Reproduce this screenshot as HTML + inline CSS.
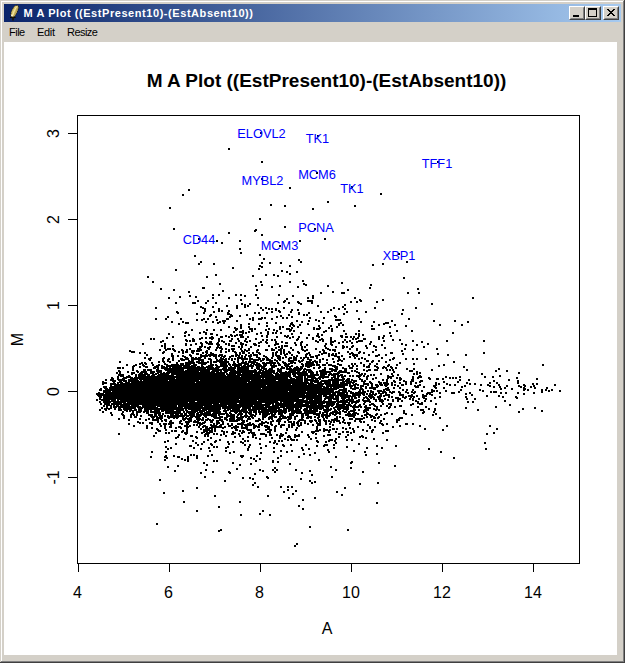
<!DOCTYPE html>
<html>
<head>
<meta charset="utf-8">
<title>M A Plot ((EstPresent10)-(EstAbsent10))</title>
<style>
html,body{margin:0;padding:0;background:#d4d0c8;}
body{width:625px;height:663px;overflow:hidden;position:relative;font-family:"Liberation Sans",sans-serif;}
#win{position:absolute;left:0;top:0;width:625px;height:663px;background:#d4d0c8;overflow:hidden;}
.b{position:absolute;}
#titlebar{position:absolute;left:4px;top:4px;width:617px;height:18px;background:linear-gradient(to right,#0a246a 0%,#a6caf0 100%);}
#ttext{position:absolute;left:23.5px;top:6px;height:14px;line-height:14px;font-size:11px;font-weight:bold;color:#fff;white-space:nowrap;transform-origin:0 0;letter-spacing:0.56px;}
.cbtn{position:absolute;top:6px;width:16px;height:14px;background:#d4d0c8;box-sizing:border-box;border:1px solid;border-color:#fff #404040 #404040 #fff;}
.cbtn:after{content:"";position:absolute;left:0;top:0;right:0;bottom:0;border:1px solid;border-color:#d4d0c8 #808080 #808080 #d4d0c8;}
#menubar{position:absolute;left:4px;top:22px;width:617px;height:19px;}
.mi{position:absolute;top:26px;height:13px;line-height:13px;font-size:11px;color:#000;white-space:nowrap;transform-origin:0 0;}
#canvas{position:absolute;left:4px;top:42px;width:613px;height:613px;background:#fff;}
svg text{font-family:"Liberation Sans",sans-serif;}
</style>
</head>
<body>
<div id="win">
  <!-- window 3D border -->
  <div class="b" style="left:0;top:0;width:625px;height:663px;background:#404040"></div>
  <div class="b" style="left:0;top:0;width:624px;height:662px;background:#d4d0c8"></div>
  <div class="b" style="left:1px;top:1px;width:623px;height:661px;background:#808080"></div>
  <div class="b" style="left:1px;top:1px;width:622px;height:660px;background:#fff"></div>
  <div class="b" style="left:2px;top:2px;width:621px;height:659px;background:#d4d0c8"></div>

  <div id="titlebar"></div>
  <!-- feather icon -->
  <svg class="b" style="left:8px;top:4px" width="14" height="18" viewBox="0 0 14 18">
    <path d="M9.3 1.2 L7.2 1.6 C5.6 3.2 4.0 5.6 3.3 7.6 C2.8 9.4 2.7 11.2 3.1 12.8 L6.2 13.0 C7.0 12.0 7.8 10.8 8.6 9.2 C9.6 7.2 10.4 5.0 10.6 3.0 C10.5 2.2 10.0 1.5 9.3 1.2 Z" fill="#d8c46c" stroke="#14100a" stroke-width="0.9" stroke-dasharray="1.1 0.7"/>
    <path d="M8.9 2.4 C7.4 4.2 5.6 7.4 4.6 11.8" fill="none" stroke="#f4ecb4" stroke-width="0.9"/>
    <path d="M9.6 3.6 C8.8 6.0 7.4 9.0 5.8 12.2" fill="none" stroke="#a89448" stroke-width="0.8"/>
    <rect x="3.2" y="10.8" width="1.4" height="1.4" fill="#fffce8"/>
    <path d="M2.0 13.5 H7.6" fill="none" stroke="#0c0a06" stroke-width="1.1"/>
    <path d="M5.0 13 V16.6" fill="none" stroke="#1c1608" stroke-width="1.7"/>
  </svg>
  <div id="ttext">M A Plot ((EstPresent10)-(EstAbsent10))</div>

  <div class="cbtn" style="left:569px"><div class="b" style="left:3px;top:8px;width:6px;height:2px;background:#000"></div></div>
  <div class="cbtn" style="left:585px"><div class="b" style="left:2px;top:1px;width:9px;height:9px;box-sizing:border-box;border:1px solid #000;border-top-width:2px"></div></div>
  <div class="cbtn" style="left:603px">
    <svg class="b" style="left:3px;top:2px" width="8" height="7" viewBox="0 0 8 7" shape-rendering="crispEdges">
      <path d="M0 0h2v1h1v1h2v-1h1v-1h2v1h-1v1h-1v1h-1v1h1v1h1v1h1v1h-2v-1h-1v-1h-2v1h-1v1h-2v-1h1v-1h1v-1h1v-1h-1v-1h-1v-1h-1z" fill="#000"/>
    </svg>
  </div>

  <div id="menubar"></div>
  <div class="mi" id="m1" style="left:9px;letter-spacing:-0.5px">File</div>
  <div class="mi" id="m2" style="left:37px;letter-spacing:-0.3px">Edit</div>
  <div class="mi" id="m3" style="left:67px;letter-spacing:-0.55px">Resize</div>

  <div id="canvas">
    <svg id="plot" width="613" height="613" viewBox="4 42 613 613" style="position:absolute;left:0;top:0">
      <!-- title -->
      <text id="main" x="326.5" y="87" text-anchor="middle" font-size="19" font-weight="bold" fill="#000">M A Plot ((EstPresent10)-(EstAbsent10))</text>
      <!-- plot box and axes -->
      <g shape-rendering="crispEdges" stroke="#000" stroke-width="1" fill="none">
        <rect x="77.5" y="115.5" width="502" height="448"/>
        <path d="M78.5 563.5V572 M169.5 563.5V572 M260.5 563.5V572 M351.5 563.5V572 M442.5 563.5V572 M533.5 563.5V572"/>
        <path d="M77.5 133.5H68 M77.5 219.5H68 M77.5 305.5H68 M77.5 391.5H68 M77.5 477.5H68"/>
      </g>
      <g font-size="16" fill="#000" text-anchor="middle">
        <text x="77.5" y="598">4</text>
        <text x="168.5" y="598">6</text>
        <text x="259.5" y="598">8</text>
        <text x="351" y="598">10</text>
        <text x="442" y="598">12</text>
        <text x="533" y="598">14</text>
        <text x="327" y="634">A</text>
        <text transform="translate(59,133.5) rotate(-90)">3</text>
        <text transform="translate(59,219.5) rotate(-90)">2</text>
        <text transform="translate(59,305.5) rotate(-90)">1</text>
        <text transform="translate(59,391.5) rotate(-90)">0</text>
        <text transform="translate(59,477.5) rotate(-90)">-1</text>
        <text transform="translate(22.5,339.5) rotate(-90)">M</text>
      </g>
      <!-- points -->
      <path id="pts" shape-rendering="crispEdges" fill="none" stroke="#000" stroke-width="1" d="M260 132.5h2M260 133.5h2M317 135.5h2M317 136.5h2M228 148.5h2M228 149.5h2M261 161.5h2M437 161.5h2M261 162.5h2M437 162.5h2M316 172.5h2M316 173.5h2M261 178.5h2M261 179.5h2M351 186.5h2M289 187.5h2M351 187.5h2M289 188.5h2M188 189.5h2M188 190.5h2M380 193.5h2M182 194.5h2M380 194.5h2M182 195.5h2M327 201.5h2M327 202.5h2M270 204.5h2M270 205.5h2M284 205.5h2M354 205.5h2M284 206.5h2M354 206.5h2M169 207.5h2M169 208.5h2M312 208.5h2M312 209.5h2M259 218.5h2M259 219.5h2M284 226.5h2M284 227.5h2M173 228.5h2M314 228.5h2M173 229.5h2M255 229.5h2M314 229.5h2M254 230.5h3M254 231.5h2M228 232.5h2M228 233.5h2M261 234.5h2M261 235.5h2M198 238.5h2M324 238.5h2M198 239.5h2M324 239.5h2M216 240.5h2M239 240.5h2M299 240.5h2M216 241.5h2M239 241.5h2M299 241.5h2M221 242.5h2M221 243.5h2M279 245.5h2M279 246.5h2M239 248.5h2M239 249.5h2M240 252.5h2M240 253.5h2M398 253.5h2M259 254.5h2M398 254.5h2M194 255.5h2M259 255.5h2M194 256.5h2M263 258.5h2M263 259.5h2M298 259.5h2M298 260.5h2M200 261.5h2M300 261.5h2M406 261.5h2M200 262.5h2M261 262.5h2M269 262.5h2M280 262.5h2M300 262.5h2M406 262.5h2M198 263.5h2M213 263.5h2M261 263.5h2M269 263.5h2M280 263.5h2M382 263.5h2M198 264.5h2M213 264.5h2M372 264.5h2M382 264.5h2M259 265.5h2M289 265.5h2M372 265.5h2M259 266.5h4M289 266.5h2M232 267.5h2M261 267.5h2M232 268.5h2M258 268.5h2M175 269.5h2M258 269.5h2M175 270.5h2M281 270.5h2M281 271.5h2M286 271.5h2M296 271.5h2M286 272.5h2M296 272.5h2M289 273.5h2M215 274.5h2M265 274.5h2M273 274.5h2M289 274.5h2M215 275.5h2M252 275.5h2M265 275.5h2M273 275.5h2M277 275.5h2M147 276.5h2M206 276.5h2M252 276.5h2M277 276.5h2M147 277.5h2M206 277.5h2M403 277.5h2M403 278.5h2M302 280.5h2M152 281.5h2M260 281.5h2M289 281.5h2M302 281.5h2M152 282.5h2M260 282.5h2M289 282.5h2M341 282.5h2M219 283.5h2M303 283.5h2M341 283.5h2M219 284.5h2M261 284.5h2M303 284.5h4M370 284.5h2M255 285.5h2M261 285.5h2M279 285.5h2M305 285.5h2M327 285.5h2M370 285.5h2M255 286.5h2M271 286.5h2M279 286.5h2M297 286.5h2M327 286.5h2M202 287.5h3M271 287.5h2M297 287.5h2M369 287.5h2M160 288.5h2M202 288.5h3M369 288.5h2M417 288.5h2M160 289.5h2M173 289.5h2M256 289.5h2M347 289.5h2M417 289.5h2M173 290.5h2M222 290.5h2M256 290.5h2M347 290.5h2M188 291.5h2M222 291.5h2M332 291.5h2M188 292.5h2M320 292.5h2M332 292.5h2M341 292.5h4M407 292.5h2M418 292.5h2M320 293.5h2M341 293.5h4M407 293.5h2M418 293.5h2M212 294.5h2M218 294.5h2M235 294.5h2M240 294.5h2M255 294.5h2M278 294.5h2M189 295.5h2M212 295.5h2M218 295.5h2M235 295.5h2M240 295.5h2M244 295.5h2M255 295.5h2M278 295.5h2M292 295.5h2M312 295.5h2M179 296.5h2M189 296.5h2M195 296.5h2M244 296.5h2M292 296.5h2M312 296.5h2M168 297.5h2M179 297.5h2M195 297.5h2M212 297.5h2M228 297.5h2M257 297.5h2M307 297.5h2M312 297.5h2M354 297.5h2M472 297.5h2M168 298.5h2M212 298.5h2M228 298.5h2M257 298.5h2M286 298.5h2M307 298.5h2M312 298.5h2M354 298.5h2M472 298.5h2M240 299.5h2M286 299.5h2M359 299.5h2M382 299.5h2M197 300.5h2M207 300.5h2M240 300.5h2M284 300.5h2M307 300.5h6M359 300.5h3M382 300.5h2M197 301.5h2M207 301.5h2M283 301.5h3M297 301.5h2M307 301.5h6M350 301.5h2M356 301.5h2M360 301.5h2M376 301.5h2M175 302.5h2M192 302.5h4M205 302.5h2M215 302.5h2M277 302.5h2M283 302.5h2M288 302.5h2M297 302.5h3M311 302.5h2M350 302.5h2M356 302.5h2M376 302.5h2M175 303.5h2M192 303.5h4M205 303.5h2M215 303.5h2M241 303.5h2M249 303.5h2M277 303.5h2M288 303.5h2M298 303.5h4M311 303.5h2M431 303.5h2M241 304.5h2M244 304.5h2M249 304.5h2M257 304.5h2M300 304.5h2M344 304.5h2M431 304.5h2M226 305.5h2M236 305.5h2M244 305.5h2M247 305.5h2M257 305.5h2M317 305.5h2M344 305.5h2M200 306.5h2M212 306.5h2M226 306.5h2M236 306.5h2M244 306.5h2M247 306.5h2M317 306.5h2M342 306.5h2M155 307.5h2M200 307.5h4M212 307.5h2M236 307.5h2M244 307.5h2M260 307.5h2M265 307.5h2M283 307.5h2M333 307.5h2M342 307.5h2M374 307.5h2M415 307.5h2M155 308.5h2M202 308.5h4M218 308.5h2M236 308.5h2M260 308.5h2M265 308.5h2M268 308.5h2M271 308.5h2M275 308.5h2M283 308.5h2M333 308.5h2M338 308.5h2M344 308.5h2M374 308.5h2M415 308.5h2M204 309.5h2M218 309.5h2M262 309.5h2M268 309.5h2M271 309.5h2M275 309.5h2M291 309.5h2M297 309.5h2M330 309.5h2M338 309.5h2M344 309.5h2M402 309.5h2M204 310.5h2M218 310.5h2M221 310.5h2M228 310.5h2M262 310.5h2M275 310.5h2M278 310.5h2M291 310.5h2M297 310.5h2M330 310.5h2M356 310.5h2M402 310.5h2M176 311.5h2M204 311.5h2M213 311.5h2M218 311.5h2M221 311.5h2M228 311.5h2M271 311.5h2M278 311.5h3M290 311.5h2M320 311.5h2M327 311.5h2M346 311.5h2M356 311.5h2M365 311.5h2M176 312.5h3M203 312.5h2M213 312.5h2M227 312.5h2M254 312.5h2M258 312.5h2M266 312.5h2M271 312.5h2M279 312.5h2M290 312.5h2M298 312.5h2M308 312.5h2M320 312.5h2M327 312.5h2M346 312.5h2M365 312.5h2M177 313.5h2M196 313.5h2M203 313.5h2M227 313.5h3M254 313.5h2M258 313.5h2M266 313.5h2M298 313.5h2M308 313.5h2M343 313.5h2M401 313.5h2M196 314.5h2M210 314.5h2M227 314.5h5M246 314.5h2M288 314.5h2M298 314.5h2M303 314.5h2M306 314.5h2M343 314.5h2M401 314.5h2M209 315.5h3M230 315.5h3M239 315.5h2M246 315.5h2M280 315.5h2M288 315.5h2M303 315.5h2M306 315.5h2M334 315.5h2M167 316.5h2M209 316.5h2M215 316.5h2M229 316.5h4M239 316.5h2M276 316.5h2M280 316.5h2M291 316.5h2M334 316.5h3M167 317.5h2M215 317.5h2M229 317.5h2M252 317.5h2M261 317.5h2M264 317.5h2M276 317.5h2M282 317.5h2M286 317.5h2M291 317.5h2M309 317.5h2M323 317.5h2M335 317.5h2M155 318.5h2M165 318.5h2M180 318.5h2M203 318.5h2M207 318.5h2M226 318.5h3M249 318.5h2M252 318.5h2M258 318.5h5M264 318.5h2M271 318.5h2M282 318.5h2M286 318.5h2M309 318.5h2M323 318.5h2M358 318.5h2M408 318.5h2M155 319.5h2M165 319.5h2M180 319.5h2M196 319.5h2M201 319.5h4M207 319.5h2M216 319.5h2M226 319.5h3M249 319.5h2M252 319.5h2M258 319.5h4M271 319.5h2M315 319.5h2M335 319.5h6M358 319.5h2M408 319.5h2M196 320.5h2M201 320.5h2M216 320.5h2M222 320.5h4M236 320.5h2M252 320.5h2M296 320.5h2M308 320.5h2M315 320.5h2M318 320.5h2M335 320.5h6M391 320.5h2M433 320.5h2M454 320.5h2M171 321.5h2M182 321.5h2M205 321.5h2M212 321.5h2M219 321.5h2M222 321.5h4M236 321.5h2M296 321.5h2M301 321.5h2M308 321.5h2M318 321.5h2M360 321.5h2M373 321.5h2M391 321.5h2M433 321.5h2M454 321.5h2M467 321.5h2M171 322.5h2M182 322.5h2M185 322.5h4M205 322.5h2M212 322.5h2M217 322.5h4M223 322.5h2M266 322.5h2M275 322.5h2M291 322.5h2M301 322.5h2M322 322.5h2M340 322.5h2M360 322.5h2M373 322.5h2M385 322.5h4M467 322.5h2M178 323.5h2M185 323.5h4M217 323.5h2M223 323.5h2M248 323.5h2M258 323.5h2M266 323.5h2M275 323.5h2M290 323.5h3M307 323.5h2M322 323.5h2M338 323.5h4M383 323.5h6M178 324.5h2M240 324.5h2M248 324.5h2M258 324.5h2M290 324.5h4M299 324.5h2M307 324.5h2M338 324.5h2M342 324.5h2M378 324.5h2M383 324.5h2M394 324.5h2M439 324.5h2M461 324.5h2M240 325.5h2M266 325.5h2M289 325.5h2M292 325.5h3M299 325.5h2M318 325.5h2M330 325.5h2M338 325.5h2M342 325.5h2M371 325.5h2M378 325.5h2M394 325.5h2M405 325.5h2M439 325.5h2M461 325.5h2M228 326.5h2M240 326.5h2M248 326.5h2M266 326.5h2M279 326.5h2M282 326.5h2M289 326.5h2M293 326.5h2M297 326.5h2M318 326.5h2M330 326.5h2M336 326.5h2M371 326.5h2M389 326.5h2M405 326.5h2M228 327.5h2M234 327.5h2M240 327.5h2M248 327.5h2M279 327.5h2M282 327.5h2M291 327.5h2M297 327.5h2M313 327.5h2M319 327.5h2M328 327.5h2M336 327.5h2M389 327.5h2M234 328.5h4M240 328.5h2M249 328.5h4M254 328.5h2M268 328.5h2M279 328.5h2M286 328.5h4M291 328.5h2M313 328.5h2M316 328.5h5M328 328.5h2M331 328.5h2M371 328.5h4M191 329.5h2M206 329.5h2M213 329.5h2M220 329.5h2M235 329.5h3M249 329.5h4M254 329.5h2M265 329.5h2M268 329.5h2M273 329.5h2M279 329.5h2M286 329.5h6M313 329.5h2M316 329.5h4M331 329.5h2M371 329.5h4M191 330.5h2M206 330.5h2M213 330.5h2M220 330.5h2M235 330.5h2M242 330.5h2M251 330.5h2M265 330.5h2M273 330.5h2M276 330.5h2M289 330.5h3M293 330.5h2M325 330.5h2M331 330.5h2M343 330.5h2M358 330.5h2M396 330.5h2M411 330.5h2M185 331.5h2M203 331.5h2M233 331.5h2M239 331.5h5M248 331.5h2M251 331.5h2M267 331.5h2M276 331.5h2M289 331.5h2M293 331.5h2M323 331.5h4M331 331.5h2M343 331.5h2M358 331.5h2M396 331.5h2M411 331.5h2M184 332.5h3M199 332.5h2M203 332.5h4M233 332.5h2M239 332.5h5M245 332.5h2M248 332.5h2M260 332.5h2M267 332.5h2M272 332.5h2M275 332.5h2M280 332.5h2M300 332.5h2M323 332.5h2M389 332.5h2M452 332.5h2M168 333.5h2M184 333.5h2M199 333.5h2M205 333.5h2M210 333.5h3M242 333.5h2M245 333.5h2M256 333.5h2M260 333.5h2M267 333.5h2M272 333.5h2M275 333.5h2M280 333.5h2M291 333.5h2M300 333.5h2M317 333.5h2M345 333.5h2M355 333.5h2M358 333.5h2M389 333.5h2M452 333.5h2M168 334.5h2M188 334.5h2M205 334.5h2M210 334.5h3M216 334.5h2M230 334.5h2M236 334.5h2M239 334.5h4M256 334.5h2M267 334.5h2M291 334.5h2M308 334.5h2M317 334.5h2M321 334.5h2M345 334.5h2M355 334.5h2M358 334.5h2M362 334.5h2M184 335.5h2M188 335.5h2M216 335.5h2M225 335.5h2M230 335.5h3M234 335.5h4M239 335.5h4M261 335.5h2M266 335.5h2M284 335.5h2M287 335.5h2M308 335.5h2M316 335.5h3M321 335.5h2M340 335.5h3M358 335.5h2M362 335.5h2M383 335.5h2M390 335.5h2M172 336.5h2M184 336.5h2M211 336.5h2M220 336.5h3M225 336.5h2M228 336.5h2M231 336.5h2M234 336.5h2M240 336.5h4M247 336.5h2M261 336.5h2M266 336.5h2M276 336.5h2M284 336.5h5M292 336.5h2M298 336.5h2M316 336.5h4M340 336.5h3M345 336.5h3M350 336.5h2M353 336.5h2M358 336.5h2M378 336.5h2M383 336.5h2M390 336.5h2M166 337.5h2M172 337.5h2M201 337.5h2M205 337.5h2M209 337.5h5M220 337.5h3M228 337.5h2M240 337.5h4M247 337.5h2M266 337.5h2M276 337.5h2M286 337.5h2M289 337.5h2M292 337.5h2M298 337.5h2M306 337.5h2M312 337.5h2M318 337.5h2M330 337.5h2M341 337.5h2M345 337.5h3M350 337.5h2M353 337.5h2M357 337.5h2M378 337.5h2M382 337.5h2M150 338.5h2M153 338.5h2M166 338.5h2M192 338.5h2M199 338.5h4M205 338.5h2M209 338.5h5M218 338.5h2M231 338.5h2M237 338.5h2M245 338.5h2M255 338.5h2M289 338.5h2M297 338.5h2M306 338.5h2M312 338.5h2M321 338.5h2M330 338.5h2M352 338.5h2M355 338.5h4M363 338.5h3M378 338.5h2M382 338.5h2M150 339.5h2M153 339.5h2M185 339.5h2M192 339.5h3M199 339.5h2M211 339.5h2M218 339.5h2M231 339.5h2M237 339.5h2M245 339.5h2M255 339.5h2M262 339.5h2M266 339.5h2M271 339.5h2M274 339.5h2M296 339.5h3M312 339.5h2M319 339.5h5M330 339.5h2M344 339.5h2M352 339.5h2M355 339.5h2M363 339.5h3M378 339.5h2M392 339.5h2M399 339.5h2M162 340.5h2M185 340.5h3M189 340.5h2M192 340.5h3M218 340.5h2M221 340.5h2M229 340.5h3M238 340.5h2M244 340.5h2M249 340.5h2M262 340.5h2M266 340.5h2M271 340.5h2M274 340.5h2M296 340.5h2M315 340.5h2M319 340.5h2M322 340.5h2M330 340.5h2M334 340.5h2M344 340.5h2M349 340.5h2M358 340.5h5M383 340.5h2M392 340.5h2M399 340.5h2M412 340.5h2M446 340.5h2M483 340.5h2M160 341.5h4M186 341.5h2M189 341.5h2M192 341.5h3M205 341.5h2M209 341.5h3M218 341.5h2M221 341.5h4M229 341.5h3M238 341.5h2M244 341.5h4M249 341.5h2M260 341.5h2M265 341.5h2M275 341.5h2M281 341.5h2M301 341.5h2M315 341.5h4M322 341.5h2M330 341.5h6M342 341.5h2M346 341.5h2M349 341.5h2M356 341.5h7M370 341.5h2M383 341.5h2M412 341.5h2M421 341.5h2M446 341.5h2M483 341.5h2M160 342.5h2M200 342.5h2M205 342.5h3M209 342.5h3M217 342.5h2M223 342.5h2M235 342.5h2M240 342.5h2M246 342.5h2M258 342.5h4M265 342.5h3M275 342.5h2M281 342.5h2M285 342.5h3M294 342.5h2M300 342.5h3M317 342.5h2M330 342.5h4M338 342.5h2M342 342.5h2M346 342.5h2M351 342.5h2M356 342.5h2M370 342.5h2M421 342.5h2M142 343.5h2M164 343.5h2M185 343.5h2M195 343.5h2M200 343.5h3M206 343.5h7M216 343.5h3M225 343.5h2M228 343.5h2M235 343.5h2M240 343.5h4M253 343.5h3M258 343.5h2M266 343.5h2M275 343.5h4M285 343.5h3M294 343.5h2M300 343.5h2M325 343.5h2M330 343.5h2M338 343.5h2M351 343.5h2M369 343.5h2M401 343.5h2M427 343.5h2M142 344.5h2M164 344.5h2M185 344.5h2M190 344.5h2M195 344.5h2M201 344.5h2M208 344.5h5M216 344.5h4M225 344.5h2M228 344.5h2M240 344.5h4M245 344.5h2M253 344.5h4M274 344.5h5M295 344.5h2M300 344.5h2M306 344.5h2M325 344.5h2M330 344.5h3M369 344.5h2M381 344.5h2M401 344.5h2M405 344.5h2M416 344.5h2M427 344.5h2M161 345.5h2M164 345.5h2M172 345.5h2M185 345.5h2M190 345.5h2M201 345.5h2M217 345.5h3M228 345.5h2M231 345.5h4M241 345.5h2M245 345.5h2M254 345.5h3M258 345.5h2M268 345.5h2M274 345.5h2M281 345.5h2M284 345.5h4M295 345.5h2M300 345.5h2M306 345.5h2M324 345.5h2M331 345.5h2M342 345.5h2M352 345.5h2M365 345.5h2M373 345.5h2M381 345.5h2M405 345.5h2M416 345.5h2M161 346.5h2M164 346.5h2M172 346.5h2M199 346.5h4M204 346.5h2M209 346.5h2M217 346.5h2M220 346.5h2M231 346.5h4M238 346.5h2M241 346.5h2M250 346.5h2M258 346.5h2M268 346.5h2M278 346.5h2M281 346.5h2M284 346.5h4M301 346.5h2M304 346.5h2M324 346.5h2M335 346.5h2M342 346.5h3M346 346.5h2M351 346.5h3M365 346.5h2M373 346.5h4M423 346.5h2M164 347.5h2M199 347.5h3M204 347.5h2M207 347.5h4M216 347.5h6M238 347.5h2M241 347.5h2M250 347.5h2M275 347.5h2M278 347.5h2M281 347.5h2M290 347.5h2M301 347.5h2M304 347.5h2M325 347.5h2M335 347.5h2M342 347.5h3M346 347.5h2M351 347.5h2M366 347.5h2M375 347.5h2M384 347.5h2M423 347.5h2M164 348.5h2M167 348.5h4M172 348.5h2M189 348.5h2M197 348.5h4M207 348.5h3M216 348.5h2M219 348.5h4M225 348.5h2M231 348.5h4M240 348.5h2M248 348.5h2M271 348.5h2M275 348.5h2M280 348.5h3M290 348.5h2M301 348.5h2M315 348.5h2M325 348.5h4M342 348.5h2M349 348.5h2M356 348.5h2M366 348.5h2M384 348.5h2M404 348.5h2M436 348.5h2M159 349.5h2M165 349.5h6M172 349.5h3M181 349.5h2M186 349.5h2M189 349.5h2M197 349.5h5M208 349.5h2M215 349.5h2M221 349.5h2M225 349.5h2M228 349.5h2M231 349.5h4M240 349.5h2M244 349.5h2M248 349.5h2M257 349.5h2M265 349.5h3M271 349.5h4M278 349.5h4M283 349.5h2M292 349.5h2M301 349.5h3M306 349.5h2M315 349.5h2M322 349.5h2M327 349.5h4M332 349.5h4M349 349.5h2M356 349.5h2M375 349.5h2M404 349.5h2M412 349.5h2M436 349.5h2M129 350.5h2M159 350.5h2M165 350.5h2M173 350.5h3M181 350.5h3M186 350.5h2M191 350.5h4M196 350.5h6M206 350.5h2M215 350.5h2M220 350.5h2M228 350.5h2M232 350.5h2M241 350.5h2M244 350.5h6M256 350.5h3M265 350.5h3M271 350.5h4M278 350.5h4M283 350.5h2M292 350.5h2M302 350.5h6M322 350.5h3M329 350.5h2M332 350.5h4M356 350.5h2M375 350.5h2M401 350.5h2M412 350.5h2M129 351.5h6M163 351.5h2M174 351.5h2M178 351.5h2M182 351.5h2M185 351.5h3M191 351.5h4M196 351.5h4M205 351.5h3M220 351.5h2M225 351.5h2M228 351.5h2M232 351.5h4M241 351.5h4M246 351.5h2M256 351.5h2M276 351.5h2M280 351.5h2M283 351.5h2M288 351.5h2M297 351.5h2M304 351.5h2M319 351.5h2M323 351.5h2M334 351.5h2M347 351.5h2M359 351.5h2M372 351.5h2M401 351.5h2M131 352.5h4M139 352.5h2M144 352.5h2M162 352.5h3M178 352.5h2M182 352.5h2M185 352.5h3M191 352.5h3M202 352.5h2M205 352.5h3M210 352.5h2M220 352.5h2M225 352.5h2M234 352.5h3M239 352.5h2M242 352.5h3M248 352.5h2M252 352.5h2M256 352.5h4M272 352.5h2M275 352.5h3M280 352.5h2M283 352.5h2M288 352.5h3M297 352.5h3M308 352.5h2M319 352.5h2M323 352.5h4M338 352.5h2M347 352.5h2M351 352.5h2M358 352.5h3M363 352.5h2M372 352.5h2M390 352.5h3M483 352.5h2M139 353.5h2M144 353.5h2M162 353.5h2M171 353.5h2M182 353.5h2M192 353.5h2M196 353.5h3M202 353.5h2M206 353.5h2M210 353.5h4M235 353.5h2M239 353.5h2M242 353.5h3M248 353.5h2M252 353.5h2M258 353.5h3M272 353.5h2M275 353.5h2M280 353.5h2M283 353.5h2M286 353.5h2M289 353.5h2M298 353.5h2M306 353.5h4M321 353.5h6M328 353.5h2M332 353.5h2M335 353.5h2M338 353.5h2M349 353.5h5M358 353.5h2M363 353.5h2M390 353.5h3M402 353.5h2M437 353.5h2M483 353.5h2M146 354.5h2M171 354.5h2M189 354.5h2M196 354.5h3M200 354.5h2M205 354.5h2M208 354.5h9M219 354.5h4M235 354.5h3M239 354.5h2M245 354.5h2M250 354.5h2M253 354.5h5M259 354.5h2M272 354.5h2M275 354.5h2M280 354.5h2M284 354.5h4M291 354.5h2M305 354.5h3M309 354.5h2M318 354.5h2M321 354.5h2M328 354.5h2M331 354.5h3M335 354.5h2M349 354.5h2M352 354.5h6M368 354.5h2M378 354.5h2M385 354.5h2M402 354.5h2M437 354.5h2M447 354.5h2M465 354.5h2M146 355.5h2M171 355.5h3M177 355.5h2M182 355.5h2M189 355.5h3M200 355.5h17M218 355.5h5M224 355.5h2M231 355.5h3M235 355.5h5M241 355.5h2M245 355.5h2M248 355.5h4M253 355.5h5M263 355.5h2M272 355.5h2M275 355.5h5M284 355.5h2M291 355.5h2M296 355.5h2M305 355.5h2M309 355.5h2M315 355.5h5M328 355.5h2M331 355.5h6M341 355.5h2M352 355.5h6M368 355.5h2M375 355.5h5M385 355.5h2M447 355.5h2M465 355.5h2M171 356.5h3M177 356.5h2M182 356.5h4M190 356.5h2M200 356.5h8M209 356.5h2M213 356.5h4M218 356.5h2M221 356.5h5M229 356.5h5M235 356.5h2M238 356.5h2M241 356.5h2M244 356.5h2M248 356.5h4M256 356.5h2M263 356.5h4M272 356.5h2M276 356.5h5M285 356.5h2M293 356.5h2M296 356.5h2M305 356.5h2M310 356.5h4M315 356.5h3M328 356.5h2M334 356.5h6M341 356.5h2M349 356.5h2M353 356.5h2M356 356.5h2M375 356.5h3M144 357.5h2M150 357.5h2M163 357.5h2M172 357.5h2M184 357.5h4M191 357.5h3M195 357.5h2M198 357.5h4M204 357.5h2M215 357.5h2M220 357.5h2M223 357.5h2M229 357.5h2M237 357.5h6M244 357.5h2M249 357.5h2M256 357.5h4M265 357.5h3M271 357.5h2M277 357.5h4M282 357.5h2M285 357.5h2M289 357.5h3M293 357.5h4M300 357.5h2M303 357.5h6M310 357.5h4M316 357.5h2M337 357.5h3M349 357.5h2M354 357.5h2M361 357.5h2M381 357.5h2M393 357.5h2M144 358.5h2M148 358.5h4M162 358.5h3M168 358.5h2M172 358.5h2M180 358.5h3M185 358.5h4M191 358.5h10M204 358.5h2M208 358.5h3M215 358.5h2M220 358.5h4M225 358.5h2M228 358.5h2M231 358.5h2M234 358.5h2M237 358.5h11M249 358.5h4M258 358.5h3M262 358.5h3M266 358.5h3M271 358.5h2M277 358.5h4M282 358.5h2M288 358.5h4M293 358.5h4M300 358.5h2M303 358.5h2M307 358.5h2M316 358.5h2M322 358.5h2M332 358.5h2M338 358.5h2M343 358.5h2M354 358.5h2M358 358.5h2M361 358.5h2M364 358.5h2M381 358.5h2M392 358.5h3M405 358.5h2M412 358.5h2M416 358.5h2M425 358.5h2M148 359.5h3M162 359.5h2M167 359.5h3M172 359.5h2M180 359.5h9M191 359.5h13M208 359.5h4M216 359.5h2M219 359.5h8M228 359.5h2M231 359.5h2M234 359.5h2M237 359.5h2M241 359.5h7M249 359.5h12M262 359.5h3M266 359.5h5M274 359.5h2M278 359.5h3M288 359.5h2M293 359.5h4M302 359.5h2M307 359.5h5M319 359.5h2M322 359.5h2M326 359.5h2M332 359.5h2M338 359.5h3M343 359.5h2M358 359.5h2M364 359.5h2M389 359.5h2M392 359.5h2M405 359.5h2M412 359.5h2M416 359.5h2M425 359.5h2M149 360.5h2M162 360.5h2M167 360.5h2M172 360.5h2M178 360.5h2M181 360.5h4M188 360.5h2M191 360.5h3M198 360.5h6M210 360.5h2M216 360.5h7M224 360.5h3M231 360.5h2M237 360.5h2M242 360.5h2M249 360.5h2M253 360.5h6M260 360.5h4M266 360.5h7M274 360.5h4M279 360.5h2M288 360.5h9M298 360.5h2M301 360.5h3M309 360.5h3M314 360.5h2M319 360.5h2M326 360.5h2M337 360.5h6M366 360.5h3M372 360.5h2M378 360.5h2M389 360.5h2M119 361.5h2M158 361.5h2M162 361.5h3M167 361.5h4M178 361.5h2M188 361.5h6M196 361.5h4M201 361.5h3M207 361.5h2M210 361.5h2M213 361.5h16M233 361.5h2M237 361.5h2M242 361.5h2M245 361.5h2M248 361.5h8M260 361.5h2M269 361.5h4M276 361.5h2M282 361.5h2M288 361.5h6M298 361.5h5M306 361.5h5M312 361.5h6M319 361.5h2M333 361.5h2M337 361.5h2M341 361.5h2M366 361.5h3M371 361.5h3M378 361.5h2M385 361.5h2M453 361.5h2M119 362.5h2M141 362.5h2M144 362.5h2M151 362.5h2M158 362.5h2M163 362.5h2M169 362.5h2M176 362.5h2M185 362.5h10M196 362.5h13M210 362.5h2M213 362.5h4M219 362.5h10M233 362.5h2M237 362.5h2M241 362.5h6M248 362.5h10M262 362.5h3M266 362.5h10M277 362.5h2M282 362.5h4M290 362.5h6M299 362.5h2M306 362.5h8M315 362.5h3M319 362.5h2M326 362.5h2M333 362.5h2M360 362.5h2M371 362.5h2M385 362.5h2M399 362.5h2M453 362.5h2M139 363.5h4M144 363.5h3M151 363.5h2M164 363.5h2M176 363.5h2M180 363.5h4M185 363.5h10M198 363.5h9M210 363.5h2M220 363.5h7M228 363.5h2M233 363.5h3M238 363.5h11M251 363.5h4M256 363.5h4M262 363.5h14M277 363.5h3M283 363.5h4M288 363.5h5M294 363.5h2M301 363.5h2M305 363.5h9M316 363.5h2M326 363.5h2M337 363.5h2M351 363.5h2M354 363.5h2M360 363.5h2M369 363.5h2M376 363.5h2M399 363.5h2M413 363.5h2M126 364.5h2M135 364.5h2M139 364.5h2M142 364.5h2M145 364.5h2M152 364.5h2M158 364.5h2M164 364.5h4M171 364.5h8M180 364.5h4M185 364.5h6M193 364.5h4M201 364.5h5M210 364.5h4M215 364.5h2M220 364.5h7M228 364.5h3M232 364.5h10M244 364.5h5M250 364.5h2M253 364.5h8M263 364.5h4M270 364.5h2M273 364.5h2M278 364.5h3M284 364.5h6M301 364.5h3M305 364.5h10M316 364.5h4M322 364.5h4M328 364.5h4M337 364.5h5M351 364.5h2M354 364.5h2M363 364.5h2M369 364.5h2M376 364.5h2M388 364.5h2M396 364.5h2M413 364.5h2M443 364.5h2M542 364.5h2M126 365.5h2M133 365.5h4M142 365.5h3M152 365.5h2M156 365.5h4M161 365.5h2M166 365.5h24M191 365.5h6M201 365.5h2M208 365.5h6M215 365.5h3M220 365.5h8M229 365.5h2M232 365.5h10M243 365.5h3M247 365.5h7M255 365.5h7M263 365.5h4M270 365.5h7M278 365.5h3M284 365.5h5M291 365.5h2M302 365.5h2M305 365.5h10M316 365.5h4M322 365.5h4M328 365.5h8M339 365.5h3M348 365.5h2M352 365.5h2M356 365.5h2M363 365.5h2M368 365.5h2M374 365.5h2M387 365.5h3M396 365.5h2M438 365.5h2M443 365.5h2M542 365.5h2M132 366.5h3M139 366.5h2M143 366.5h5M154 366.5h5M161 366.5h4M166 366.5h16M183 366.5h13M197 366.5h3M201 366.5h3M206 366.5h7M216 366.5h12M230 366.5h2M234 366.5h6M241 366.5h13M256 366.5h10M271 366.5h6M281 366.5h2M285 366.5h8M296 366.5h2M300 366.5h4M305 366.5h7M319 366.5h2M332 366.5h6M348 366.5h2M352 366.5h2M356 366.5h2M363 366.5h2M366 366.5h4M374 366.5h4M383 366.5h2M387 366.5h2M390 366.5h2M438 366.5h2M463 366.5h2M117 367.5h4M122 367.5h2M132 367.5h2M139 367.5h2M145 367.5h3M153 367.5h6M161 367.5h7M169 367.5h2M172 367.5h42M215 367.5h5M223 367.5h4M228 367.5h8M237 367.5h12M251 367.5h2M256 367.5h4M261 367.5h4M271 367.5h4M281 367.5h4M286 367.5h2M289 367.5h2M294 367.5h5M300 367.5h3M307 367.5h3M313 367.5h2M318 367.5h3M324 367.5h2M334 367.5h4M342 367.5h2M349 367.5h4M366 367.5h4M376 367.5h3M382 367.5h5M390 367.5h3M395 367.5h2M463 367.5h2M117 368.5h4M122 368.5h2M132 368.5h2M153 368.5h3M157 368.5h2M161 368.5h45M207 368.5h12M222 368.5h5M228 368.5h8M237 368.5h12M251 368.5h2M256 368.5h4M261 368.5h6M269 368.5h4M277 368.5h2M280 368.5h5M286 368.5h6M293 368.5h10M304 368.5h2M313 368.5h2M318 368.5h2M324 368.5h2M329 368.5h4M335 368.5h3M342 368.5h5M349 368.5h4M356 368.5h2M377 368.5h2M382 368.5h2M385 368.5h2M391 368.5h2M395 368.5h2M406 368.5h2M413 368.5h2M498 368.5h2M132 369.5h2M143 369.5h3M147 369.5h5M156 369.5h3M164 369.5h20M187 369.5h48M237 369.5h12M254 369.5h2M257 369.5h5M263 369.5h4M268 369.5h5M277 369.5h5M286 369.5h16M303 369.5h8M322 369.5h4M329 369.5h9M344 369.5h3M356 369.5h2M363 369.5h2M368 369.5h3M374 369.5h4M386 369.5h2M389 369.5h2M392 369.5h2M406 369.5h2M413 369.5h2M431 369.5h2M466 369.5h2M498 369.5h2M118 370.5h2M132 370.5h2M136 370.5h2M143 370.5h3M147 370.5h5M156 370.5h6M165 370.5h19M185 370.5h25M212 370.5h10M223 370.5h13M237 370.5h20M259 370.5h5M265 370.5h10M277 370.5h5M289 370.5h12M303 370.5h2M306 370.5h6M319 370.5h7M331 370.5h6M339 370.5h3M344 370.5h3M351 370.5h2M354 370.5h2M363 370.5h2M366 370.5h5M374 370.5h4M386 370.5h2M389 370.5h2M392 370.5h2M409 370.5h4M431 370.5h2M466 370.5h2M495 370.5h2M506 370.5h2M118 371.5h3M127 371.5h2M136 371.5h3M141 371.5h6M150 371.5h5M156 371.5h6M167 371.5h32M200 371.5h10M211 371.5h8M220 371.5h2M224 371.5h4M230 371.5h27M258 371.5h3M262 371.5h13M277 371.5h5M285 371.5h2M288 371.5h8M297 371.5h3M302 371.5h5M308 371.5h5M316 371.5h2M319 371.5h14M334 371.5h3M338 371.5h9M351 371.5h2M354 371.5h4M366 371.5h2M393 371.5h2M409 371.5h4M416 371.5h2M495 371.5h2M506 371.5h2M116 372.5h2M119 372.5h2M127 372.5h2M131 372.5h4M137 372.5h2M140 372.5h7M150 372.5h5M157 372.5h5M163 372.5h2M166 372.5h49M216 372.5h11M229 372.5h46M276 372.5h2M279 372.5h28M308 372.5h6M316 372.5h2M320 372.5h11M337 372.5h13M356 372.5h4M393 372.5h2M416 372.5h2M419 372.5h2M518 372.5h2M116 373.5h2M119 373.5h2M131 373.5h4M139 373.5h4M144 373.5h4M150 373.5h4M155 373.5h4M160 373.5h10M171 373.5h54M226 373.5h2M229 373.5h12M242 373.5h11M254 373.5h18M273 373.5h6M280 373.5h11M292 373.5h16M310 373.5h4M316 373.5h2M320 373.5h7M329 373.5h3M333 373.5h7M347 373.5h3M358 373.5h2M361 373.5h2M364 373.5h2M380 373.5h2M391 373.5h2M413 373.5h2M416 373.5h2M419 373.5h2M481 373.5h2M518 373.5h2M118 374.5h6M131 374.5h2M135 374.5h2M138 374.5h12M152 374.5h5M158 374.5h11M171 374.5h54M226 374.5h10M237 374.5h23M261 374.5h12M275 374.5h16M292 374.5h4M297 374.5h11M310 374.5h9M320 374.5h7M328 374.5h11M340 374.5h3M359 374.5h4M364 374.5h2M370 374.5h2M373 374.5h2M380 374.5h2M391 374.5h2M397 374.5h2M413 374.5h2M416 374.5h2M481 374.5h2M118 375.5h6M128 375.5h2M135 375.5h2M138 375.5h8M147 375.5h3M151 375.5h4M157 375.5h17M176 375.5h50M227 375.5h47M275 375.5h16M293 375.5h3M298 375.5h21M320 375.5h5M328 375.5h2M331 375.5h5M337 375.5h6M344 375.5h2M349 375.5h2M352 375.5h2M356 375.5h6M363 375.5h2M367 375.5h2M370 375.5h2M373 375.5h2M387 375.5h2M392 375.5h2M397 375.5h2M419 375.5h2M499 375.5h2M117 376.5h2M120 376.5h4M126 376.5h5M135 376.5h2M138 376.5h102M241 376.5h50M293 376.5h10M304 376.5h2M307 376.5h8M319 376.5h10M333 376.5h3M337 376.5h3M341 376.5h5M349 376.5h2M352 376.5h2M356 376.5h5M363 376.5h2M366 376.5h3M387 376.5h7M412 376.5h2M418 376.5h4M445 376.5h2M459 376.5h2M484 376.5h2M492 376.5h2M499 376.5h2M111 377.5h2M117 377.5h2M123 377.5h10M134 377.5h154M289 377.5h3M295 377.5h8M304 377.5h2M307 377.5h9M318 377.5h11M331 377.5h5M337 377.5h2M341 377.5h3M358 377.5h2M366 377.5h2M375 377.5h2M387 377.5h5M396 377.5h2M399 377.5h2M412 377.5h2M417 377.5h5M428 377.5h2M445 377.5h2M449 377.5h2M452 377.5h2M455 377.5h2M459 377.5h2M484 377.5h2M492 377.5h2M516 377.5h2M111 378.5h3M117 378.5h2M122 378.5h5M130 378.5h45M176 378.5h85M262 378.5h2M265 378.5h23M290 378.5h5M296 378.5h7M304 378.5h4M311 378.5h10M322 378.5h2M331 378.5h2M334 378.5h5M342 378.5h3M347 378.5h3M359 378.5h2M366 378.5h2M372 378.5h2M375 378.5h2M387 378.5h2M390 378.5h2M396 378.5h2M399 378.5h3M412 378.5h2M417 378.5h2M428 378.5h3M436 378.5h3M442 378.5h2M449 378.5h2M452 378.5h2M455 378.5h2M516 378.5h2M536 378.5h2M105 379.5h2M110 379.5h4M117 379.5h8M128 379.5h10M139 379.5h164M304 379.5h10M315 379.5h3M319 379.5h2M328 379.5h17M346 379.5h4M351 379.5h2M359 379.5h4M366 379.5h2M372 379.5h2M382 379.5h2M386 379.5h2M399 379.5h3M411 379.5h3M429 379.5h2M436 379.5h3M442 379.5h2M459 379.5h2M468 379.5h2M508 379.5h2M536 379.5h2M105 380.5h2M110 380.5h6M118 380.5h9M128 380.5h11M140 380.5h2M143 380.5h25M169 380.5h30M200 380.5h50M251 380.5h25M278 380.5h25M304 380.5h15M321 380.5h23M345 380.5h5M351 380.5h6M361 380.5h2M364 380.5h2M382 380.5h2M386 380.5h2M393 380.5h2M399 380.5h2M403 380.5h2M411 380.5h3M420 380.5h3M459 380.5h2M468 380.5h2M493 380.5h2M508 380.5h2M517 380.5h2M102 381.5h2M112 381.5h4M119 381.5h3M123 381.5h4M128 381.5h175M304 381.5h4M310 381.5h9M320 381.5h11M332 381.5h7M342 381.5h10M353 381.5h4M361 381.5h5M369 381.5h2M378 381.5h2M386 381.5h2M393 381.5h3M403 381.5h4M410 381.5h4M419 381.5h4M443 381.5h2M457 381.5h2M493 381.5h2M517 381.5h2M102 382.5h5M113 382.5h2M117 382.5h6M125 382.5h5M131 382.5h64M196 382.5h51M248 382.5h61M310 382.5h3M314 382.5h8M324 382.5h7M332 382.5h7M340 382.5h5M346 382.5h9M363 382.5h2M369 382.5h3M378 382.5h4M383 382.5h5M391 382.5h2M394 382.5h2M399 382.5h2M405 382.5h2M410 382.5h2M415 382.5h2M419 382.5h2M435 382.5h2M443 382.5h2M457 382.5h2M466 382.5h2M489 382.5h2M496 382.5h2M517 382.5h2M102 383.5h5M110 383.5h6M117 383.5h2M120 383.5h194M317 383.5h14M332 383.5h7M340 383.5h11M352 383.5h2M355 383.5h2M363 383.5h6M370 383.5h3M379 383.5h3M383 383.5h6M391 383.5h2M399 383.5h2M405 383.5h2M410 383.5h2M415 383.5h2M435 383.5h2M438 383.5h2M446 383.5h2M466 383.5h2M469 383.5h2M474 383.5h2M489 383.5h2M496 383.5h2M517 383.5h2M532 383.5h2M536 383.5h2M102 384.5h2M110 384.5h181M292 384.5h15M308 384.5h16M325 384.5h23M349 384.5h2M353 384.5h6M363 384.5h6M371 384.5h2M375 384.5h3M379 384.5h4M384 384.5h5M391 384.5h2M394 384.5h2M401 384.5h3M405 384.5h2M410 384.5h2M419 384.5h2M435 384.5h2M438 384.5h2M446 384.5h2M449 384.5h2M454 384.5h2M469 384.5h2M474 384.5h2M480 384.5h2M487 384.5h2M498 384.5h2M523 384.5h2M532 384.5h2M536 384.5h2M554 384.5h2M110 385.5h2M114 385.5h152M267 385.5h56M326 385.5h22M349 385.5h7M357 385.5h2M360 385.5h4M367 385.5h2M371 385.5h2M375 385.5h4M380 385.5h3M384 385.5h4M391 385.5h2M394 385.5h2M397 385.5h2M401 385.5h3M414 385.5h2M417 385.5h4M433 385.5h4M449 385.5h2M454 385.5h2M464 385.5h2M480 385.5h2M487 385.5h4M498 385.5h2M506 385.5h2M518 385.5h2M523 385.5h3M533 385.5h2M554 385.5h2M103 386.5h4M110 386.5h215M326 386.5h19M349 386.5h4M354 386.5h2M360 386.5h4M365 386.5h2M371 386.5h2M376 386.5h3M385 386.5h2M397 386.5h2M414 386.5h5M423 386.5h2M433 386.5h3M461 386.5h2M464 386.5h2M489 386.5h2M493 386.5h2M499 386.5h2M506 386.5h2M518 386.5h4M524 386.5h2M530 386.5h2M533 386.5h2M103 387.5h4M109 387.5h213M323 387.5h6M330 387.5h2M333 387.5h12M350 387.5h2M354 387.5h5M360 387.5h2M365 387.5h2M369 387.5h9M387 387.5h2M393 387.5h2M399 387.5h2M415 387.5h4M423 387.5h2M434 387.5h3M443 387.5h2M461 387.5h2M493 387.5h2M499 387.5h2M504 387.5h2M520 387.5h2M523 387.5h2M530 387.5h2M534 387.5h2M546 387.5h2M100 388.5h2M104 388.5h4M109 388.5h152M262 388.5h77M343 388.5h4M350 388.5h9M360 388.5h3M365 388.5h2M369 388.5h7M385 388.5h4M393 388.5h2M399 388.5h2M435 388.5h2M443 388.5h2M500 388.5h2M504 388.5h2M511 388.5h2M523 388.5h3M534 388.5h2M546 388.5h2M99 389.5h3M105 389.5h232M339 389.5h8M352 389.5h4M359 389.5h5M373 389.5h3M383 389.5h7M402 389.5h2M406 389.5h2M412 389.5h2M431 389.5h2M460 389.5h2M479 389.5h2M500 389.5h2M511 389.5h2M523 389.5h3M527 389.5h2M541 389.5h2M545 389.5h2M551 389.5h2M99 390.5h3M103 390.5h231M338 390.5h9M348 390.5h2M359 390.5h2M362 390.5h2M367 390.5h2M370 390.5h2M377 390.5h5M383 390.5h2M386 390.5h4M402 390.5h2M406 390.5h2M412 390.5h2M421 390.5h2M431 390.5h4M436 390.5h2M445 390.5h2M460 390.5h2M479 390.5h2M482 390.5h2M523 390.5h2M527 390.5h2M541 390.5h2M545 390.5h2M548 390.5h2M551 390.5h2M559 390.5h2M103 391.5h8M112 391.5h176M289 391.5h17M307 391.5h27M335 391.5h5M342 391.5h5M348 391.5h4M358 391.5h3M362 391.5h4M367 391.5h2M370 391.5h4M377 391.5h9M389 391.5h2M392 391.5h3M398 391.5h2M405 391.5h2M411 391.5h2M414 391.5h2M421 391.5h2M431 391.5h4M436 391.5h2M445 391.5h2M458 391.5h2M482 391.5h2M490 391.5h2M493 391.5h4M541 391.5h2M548 391.5h2M559 391.5h2M98 392.5h2M103 392.5h245M350 392.5h4M355 392.5h11M370 392.5h4M378 392.5h2M382 392.5h5M389 392.5h6M398 392.5h3M405 392.5h4M411 392.5h5M427 392.5h6M439 392.5h2M451 392.5h4M458 392.5h2M469 392.5h2M490 392.5h2M493 392.5h4M500 392.5h2M505 392.5h2M517 392.5h2M533 392.5h2M541 392.5h2M96 393.5h8M105 393.5h226M332 393.5h4M337 393.5h8M346 393.5h2M350 393.5h15M366 393.5h2M369 393.5h2M372 393.5h2M375 393.5h2M378 393.5h6M385 393.5h2M391 393.5h2M399 393.5h2M407 393.5h2M413 393.5h2M426 393.5h5M439 393.5h2M451 393.5h4M465 393.5h2M469 393.5h2M500 393.5h2M505 393.5h2M517 393.5h2M523 393.5h2M533 393.5h2M96 394.5h209M306 394.5h11M318 394.5h18M337 394.5h11M352 394.5h9M362 394.5h3M366 394.5h2M369 394.5h8M380 394.5h2M385 394.5h5M399 394.5h5M411 394.5h2M422 394.5h2M426 394.5h2M429 394.5h4M465 394.5h2M471 394.5h2M523 394.5h2M97 395.5h225M323 395.5h4M329 395.5h22M352 395.5h9M363 395.5h2M368 395.5h5M374 395.5h2M379 395.5h3M383 395.5h7M399 395.5h5M408 395.5h5M416 395.5h2M422 395.5h5M431 395.5h2M471 395.5h2M486 395.5h2M498 395.5h2M98 396.5h4M103 396.5h219M323 396.5h11M335 396.5h4M340 396.5h16M358 396.5h2M365 396.5h2M368 396.5h6M377 396.5h5M383 396.5h2M388 396.5h2M391 396.5h2M402 396.5h2M405 396.5h2M408 396.5h7M416 396.5h2M422 396.5h5M439 396.5h2M465 396.5h2M486 396.5h2M498 396.5h2M502 396.5h2M515 396.5h2M99 397.5h3M103 397.5h219M325 397.5h9M335 397.5h4M341 397.5h9M351 397.5h2M354 397.5h3M358 397.5h2M363 397.5h5M369 397.5h6M377 397.5h4M388 397.5h2M391 397.5h2M395 397.5h4M402 397.5h5M410 397.5h2M413 397.5h2M422 397.5h3M434 397.5h2M439 397.5h2M465 397.5h2M502 397.5h2M515 397.5h3M99 398.5h2M103 398.5h196M302 398.5h3M306 398.5h16M324 398.5h15M341 398.5h5M348 398.5h2M351 398.5h2M354 398.5h3M363 398.5h2M366 398.5h3M370 398.5h2M373 398.5h2M378 398.5h3M384 398.5h2M395 398.5h6M404 398.5h2M409 398.5h2M412 398.5h2M418 398.5h2M423 398.5h4M434 398.5h2M466 398.5h2M474 398.5h2M516 398.5h2M96 399.5h2M99 399.5h17M117 399.5h122M240 399.5h64M306 399.5h7M314 399.5h8M324 399.5h2M328 399.5h4M333 399.5h6M342 399.5h3M346 399.5h8M358 399.5h2M362 399.5h2M367 399.5h3M373 399.5h4M378 399.5h5M384 399.5h2M387 399.5h2M392 399.5h2M397 399.5h4M409 399.5h2M412 399.5h2M418 399.5h2M425 399.5h2M466 399.5h2M474 399.5h2M96 400.5h2M101 400.5h9M111 400.5h5M117 400.5h2M120 400.5h137M258 400.5h50M309 400.5h13M323 400.5h2M328 400.5h4M336 400.5h3M340 400.5h14M356 400.5h4M362 400.5h8M375 400.5h2M379 400.5h5M387 400.5h2M392 400.5h2M397 400.5h2M401 400.5h2M412 400.5h2M415 400.5h2M424 400.5h2M430 400.5h2M504 400.5h2M99 401.5h2M103 401.5h92M197 401.5h81M280 401.5h68M349 401.5h11M363 401.5h8M375 401.5h2M379 401.5h5M392 401.5h2M397 401.5h2M401 401.5h2M415 401.5h4M424 401.5h2M430 401.5h2M467 401.5h2M472 401.5h2M504 401.5h2M99 402.5h2M103 402.5h8M113 402.5h13M127 402.5h61M189 402.5h90M280 402.5h2M283 402.5h11M296 402.5h40M337 402.5h13M351 402.5h8M364 402.5h2M369 402.5h2M381 402.5h2M417 402.5h2M421 402.5h2M467 402.5h2M472 402.5h2M100 403.5h2M104 403.5h6M111 403.5h11M123 403.5h96M220 403.5h17M239 403.5h23M265 403.5h9M275 403.5h19M295 403.5h8M305 403.5h20M326 403.5h9M336 403.5h3M342 403.5h4M348 403.5h2M351 403.5h2M355 403.5h2M363 403.5h2M371 403.5h3M382 403.5h2M388 403.5h4M412 403.5h2M417 403.5h6M435 403.5h2M100 404.5h2M104 404.5h6M111 404.5h101M213 404.5h58M272 404.5h2M275 404.5h34M310 404.5h7M318 404.5h5M326 404.5h9M336 404.5h15M354 404.5h2M359 404.5h2M363 404.5h2M369 404.5h6M382 404.5h2M388 404.5h4M410 404.5h4M419 404.5h4M435 404.5h2M509 404.5h2M103 405.5h2M106 405.5h6M113 405.5h2M116 405.5h3M120 405.5h10M131 405.5h8M142 405.5h35M178 405.5h49M228 405.5h25M254 405.5h16M272 405.5h62M336 405.5h9M346 405.5h6M353 405.5h3M358 405.5h3M365 405.5h2M369 405.5h2M373 405.5h3M380 405.5h2M386 405.5h2M390 405.5h2M399 405.5h3M410 405.5h2M509 405.5h2M103 406.5h2M106 406.5h2M110 406.5h2M113 406.5h28M142 406.5h14M157 406.5h20M178 406.5h25M204 406.5h60M265 406.5h14M280 406.5h50M331 406.5h2M335 406.5h14M350 406.5h12M364 406.5h3M374 406.5h4M380 406.5h2M386 406.5h2M389 406.5h2M394 406.5h2M399 406.5h3M417 406.5h2M425 406.5h2M495 406.5h2M101 407.5h2M106 407.5h2M110 407.5h2M113 407.5h4M118 407.5h18M137 407.5h21M160 407.5h23M184 407.5h37M222 407.5h19M242 407.5h9M252 407.5h33M286 407.5h16M306 407.5h18M325 407.5h4M333 407.5h16M352 407.5h7M360 407.5h2M364 407.5h7M376 407.5h2M388 407.5h3M394 407.5h2M417 407.5h2M425 407.5h2M465 407.5h2M495 407.5h2M534 407.5h2M101 408.5h2M104 408.5h8M114 408.5h2M118 408.5h3M123 408.5h13M138 408.5h5M144 408.5h77M222 408.5h18M242 408.5h9M252 408.5h15M268 408.5h12M283 408.5h11M295 408.5h4M300 408.5h2M304 408.5h4M309 408.5h15M326 408.5h3M330 408.5h2M333 408.5h2M337 408.5h12M353 408.5h2M365 408.5h6M373 408.5h2M376 408.5h2M388 408.5h2M428 408.5h2M434 408.5h2M465 408.5h2M522 408.5h2M534 408.5h2M99 409.5h2M104 409.5h3M108 409.5h2M114 409.5h2M118 409.5h4M123 409.5h9M134 409.5h3M138 409.5h4M144 409.5h40M185 409.5h2M188 409.5h13M202 409.5h19M224 409.5h2M227 409.5h4M232 409.5h8M241 409.5h6M248 409.5h29M278 409.5h4M283 409.5h4M288 409.5h6M295 409.5h6M303 409.5h5M309 409.5h3M313 409.5h5M319 409.5h3M323 409.5h9M334 409.5h2M337 409.5h4M343 409.5h6M353 409.5h3M358 409.5h2M364 409.5h5M373 409.5h7M420 409.5h4M428 409.5h2M434 409.5h2M477 409.5h2M522 409.5h2M99 410.5h2M105 410.5h2M118 410.5h4M124 410.5h4M129 410.5h8M138 410.5h4M144 410.5h5M150 410.5h2M154 410.5h6M161 410.5h13M176 410.5h8M185 410.5h3M191 410.5h16M208 410.5h12M223 410.5h6M230 410.5h17M248 410.5h9M258 410.5h2M261 410.5h26M288 410.5h13M303 410.5h15M323 410.5h8M334 410.5h3M338 410.5h2M342 410.5h2M346 410.5h2M350 410.5h6M358 410.5h2M363 410.5h6M375 410.5h2M378 410.5h2M403 410.5h2M420 410.5h4M434 410.5h2M477 410.5h2M541 410.5h2M102 411.5h2M122 411.5h2M126 411.5h2M129 411.5h2M132 411.5h2M136 411.5h6M143 411.5h6M150 411.5h10M161 411.5h3M165 411.5h16M183 411.5h2M186 411.5h12M199 411.5h6M206 411.5h15M223 411.5h4M230 411.5h18M249 411.5h3M253 411.5h4M258 411.5h29M288 411.5h2M291 411.5h11M304 411.5h14M319 411.5h2M324 411.5h5M332 411.5h6M339 411.5h2M342 411.5h5M348 411.5h7M363 411.5h4M403 411.5h2M423 411.5h2M433 411.5h2M518 411.5h2M541 411.5h2M102 412.5h2M110 412.5h2M122 412.5h2M132 412.5h2M136 412.5h5M143 412.5h2M146 412.5h3M150 412.5h11M165 412.5h16M183 412.5h2M186 412.5h10M197 412.5h6M204 412.5h7M213 412.5h8M225 412.5h2M229 412.5h2M234 412.5h4M239 412.5h3M243 412.5h9M253 412.5h4M258 412.5h11M270 412.5h7M278 412.5h9M291 412.5h11M304 412.5h12M319 412.5h2M322 412.5h6M330 412.5h11M344 412.5h3M348 412.5h2M353 412.5h4M363 412.5h2M366 412.5h2M386 412.5h2M403 412.5h2M422 412.5h3M433 412.5h2M518 412.5h2M110 413.5h2M121 413.5h2M131 413.5h3M136 413.5h2M146 413.5h3M154 413.5h7M162 413.5h2M165 413.5h18M184 413.5h3M188 413.5h7M196 413.5h3M200 413.5h11M212 413.5h16M229 413.5h3M235 413.5h2M238 413.5h5M245 413.5h2M248 413.5h4M255 413.5h2M259 413.5h2M262 413.5h11M274 413.5h2M278 413.5h5M284 413.5h2M289 413.5h6M296 413.5h25M322 413.5h2M326 413.5h2M329 413.5h5M335 413.5h6M347 413.5h4M352 413.5h7M366 413.5h3M376 413.5h2M384 413.5h4M391 413.5h2M403 413.5h4M422 413.5h2M435 413.5h2M111 414.5h2M121 414.5h3M130 414.5h5M136 414.5h2M148 414.5h5M154 414.5h3M158 414.5h3M162 414.5h2M170 414.5h4M175 414.5h4M180 414.5h3M184 414.5h3M189 414.5h6M196 414.5h21M218 414.5h7M226 414.5h3M230 414.5h5M237 414.5h6M245 414.5h2M249 414.5h5M255 414.5h2M259 414.5h2M262 414.5h8M271 414.5h5M278 414.5h5M289 414.5h5M301 414.5h3M305 414.5h4M313 414.5h7M321 414.5h7M329 414.5h2M332 414.5h5M339 414.5h2M345 414.5h11M357 414.5h2M364 414.5h7M375 414.5h3M380 414.5h2M384 414.5h2M391 414.5h2M405 414.5h2M411 414.5h2M432 414.5h2M435 414.5h2M111 415.5h2M122 415.5h3M130 415.5h2M133 415.5h2M136 415.5h2M140 415.5h2M148 415.5h5M154 415.5h3M158 415.5h5M164 415.5h2M167 415.5h2M170 415.5h25M196 415.5h6M203 415.5h14M218 415.5h2M226 415.5h9M237 415.5h2M240 415.5h2M244 415.5h4M250 415.5h6M262 415.5h6M271 415.5h4M280 415.5h4M289 415.5h5M296 415.5h2M301 415.5h3M305 415.5h4M316 415.5h4M321 415.5h10M334 415.5h2M345 415.5h11M361 415.5h2M364 415.5h3M369 415.5h4M375 415.5h2M380 415.5h2M411 415.5h2M432 415.5h2M123 416.5h2M130 416.5h2M134 416.5h3M140 416.5h2M150 416.5h8M159 416.5h4M164 416.5h2M167 416.5h18M186 416.5h3M190 416.5h11M204 416.5h3M211 416.5h6M219 416.5h4M226 416.5h9M236 416.5h2M240 416.5h13M254 416.5h2M262 416.5h5M269 416.5h8M279 416.5h7M287 416.5h5M294 416.5h4M301 416.5h3M307 416.5h5M314 416.5h2M318 416.5h2M321 416.5h3M325 416.5h5M336 416.5h2M339 416.5h2M348 416.5h7M361 416.5h2M366 416.5h2M370 416.5h5M378 416.5h2M123 417.5h2M130 417.5h2M134 417.5h3M151 417.5h4M156 417.5h7M167 417.5h12M182 417.5h2M185 417.5h2M189 417.5h4M195 417.5h5M202 417.5h2M205 417.5h2M213 417.5h10M224 417.5h4M230 417.5h5M236 417.5h8M245 417.5h2M248 417.5h2M251 417.5h3M262 417.5h4M268 417.5h5M274 417.5h3M279 417.5h2M282 417.5h10M294 417.5h2M301 417.5h3M306 417.5h6M314 417.5h2M317 417.5h3M322 417.5h2M325 417.5h3M336 417.5h2M339 417.5h2M342 417.5h2M353 417.5h2M363 417.5h2M366 417.5h2M370 417.5h2M373 417.5h3M377 417.5h3M399 417.5h4M439 417.5h2M118 418.5h2M123 418.5h2M139 418.5h2M148 418.5h2M152 418.5h2M156 418.5h7M168 418.5h2M173 418.5h2M176 418.5h2M182 418.5h10M196 418.5h5M202 418.5h2M207 418.5h2M214 418.5h7M224 418.5h3M229 418.5h6M237 418.5h6M247 418.5h4M252 418.5h2M258 418.5h2M262 418.5h2M268 418.5h5M278 418.5h9M288 418.5h4M294 418.5h2M301 418.5h2M306 418.5h3M310 418.5h2M317 418.5h2M323 418.5h2M326 418.5h2M334 418.5h4M342 418.5h2M349 418.5h4M355 418.5h10M373 418.5h3M377 418.5h2M383 418.5h2M398 418.5h5M439 418.5h2M118 419.5h2M128 419.5h2M139 419.5h2M145 419.5h2M148 419.5h2M152 419.5h7M160 419.5h2M164 419.5h3M182 419.5h4M187 419.5h5M196 419.5h8M205 419.5h6M212 419.5h2M219 419.5h4M224 419.5h4M229 419.5h6M236 419.5h7M247 419.5h4M258 419.5h3M262 419.5h2M268 419.5h2M271 419.5h2M277 419.5h5M287 419.5h4M294 419.5h2M299 419.5h5M314 419.5h2M318 419.5h3M323 419.5h2M331 419.5h7M343 419.5h2M349 419.5h4M355 419.5h8M371 419.5h2M383 419.5h2M396 419.5h4M128 420.5h2M145 420.5h2M152 420.5h7M161 420.5h2M164 420.5h3M170 420.5h2M180 420.5h2M183 420.5h2M188 420.5h4M194 420.5h2M197 420.5h3M201 420.5h3M205 420.5h3M209 420.5h5M216 420.5h7M226 420.5h2M229 420.5h11M241 420.5h4M246 420.5h2M255 420.5h6M272 420.5h2M276 420.5h5M287 420.5h2M298 420.5h8M309 420.5h4M314 420.5h3M318 420.5h3M323 420.5h4M328 420.5h2M331 420.5h9M343 420.5h2M354 420.5h2M359 420.5h2M371 420.5h2M374 420.5h2M380 420.5h2M396 420.5h4M137 421.5h2M157 421.5h2M161 421.5h2M165 421.5h2M169 421.5h3M179 421.5h3M185 421.5h7M193 421.5h6M204 421.5h2M210 421.5h3M216 421.5h3M221 421.5h3M229 421.5h9M242 421.5h3M246 421.5h2M255 421.5h4M261 421.5h2M265 421.5h2M270 421.5h4M276 421.5h5M284 421.5h2M288 421.5h4M293 421.5h2M297 421.5h3M304 421.5h2M309 421.5h4M315 421.5h2M318 421.5h3M324 421.5h3M328 421.5h4M333 421.5h2M336 421.5h4M342 421.5h2M354 421.5h2M359 421.5h3M363 421.5h2M374 421.5h2M380 421.5h2M396 421.5h2M137 422.5h4M142 422.5h2M149 422.5h4M157 422.5h2M169 422.5h5M179 422.5h2M185 422.5h5M193 422.5h8M202 422.5h4M210 422.5h3M216 422.5h4M222 422.5h2M241 422.5h4M249 422.5h2M261 422.5h8M270 422.5h2M278 422.5h2M284 422.5h2M288 422.5h4M293 422.5h2M296 422.5h3M300 422.5h2M304 422.5h2M310 422.5h2M316 422.5h2M319 422.5h2M325 422.5h2M330 422.5h2M333 422.5h2M339 422.5h2M342 422.5h4M347 422.5h4M360 422.5h2M363 422.5h2M379 422.5h2M396 422.5h2M128 423.5h2M139 423.5h2M142 423.5h2M149 423.5h4M159 423.5h2M163 423.5h4M168 423.5h6M179 423.5h4M186 423.5h3M197 423.5h8M213 423.5h2M216 423.5h4M222 423.5h2M227 423.5h2M231 423.5h2M237 423.5h7M247 423.5h4M252 423.5h2M259 423.5h6M267 423.5h2M270 423.5h2M278 423.5h2M291 423.5h4M296 423.5h3M300 423.5h2M304 423.5h2M307 423.5h2M316 423.5h5M325 423.5h2M329 423.5h2M339 423.5h2M344 423.5h2M347 423.5h4M379 423.5h4M386 423.5h2M405 423.5h3M412 423.5h2M128 424.5h2M151 424.5h2M159 424.5h2M163 424.5h4M168 424.5h4M181 424.5h2M186 424.5h3M193 424.5h2M196 424.5h2M199 424.5h4M210 424.5h2M213 424.5h2M216 424.5h2M220 424.5h4M227 424.5h2M231 424.5h2M237 424.5h18M258 424.5h5M270 424.5h3M278 424.5h2M281 424.5h4M288 424.5h2M291 424.5h4M297 424.5h2M300 424.5h2M307 424.5h2M312 424.5h2M317 424.5h4M325 424.5h2M329 424.5h2M332 424.5h2M348 424.5h2M367 424.5h2M381 424.5h3M386 424.5h2M405 424.5h3M412 424.5h2M133 425.5h2M146 425.5h2M160 425.5h2M164 425.5h2M170 425.5h2M184 425.5h4M189 425.5h2M193 425.5h2M196 425.5h2M199 425.5h2M203 425.5h3M210 425.5h7M219 425.5h3M228 425.5h5M235 425.5h2M241 425.5h2M244 425.5h8M253 425.5h4M258 425.5h2M261 425.5h2M264 425.5h4M271 425.5h2M275 425.5h2M280 425.5h5M288 425.5h2M291 425.5h4M297 425.5h5M312 425.5h2M317 425.5h4M332 425.5h2M348 425.5h2M367 425.5h2M382 425.5h2M399 425.5h2M419 425.5h2M446 425.5h2M489 425.5h2M133 426.5h2M146 426.5h2M160 426.5h2M164 426.5h2M169 426.5h3M178 426.5h3M184 426.5h7M198 426.5h2M202 426.5h6M211 426.5h11M224 426.5h2M228 426.5h3M233 426.5h6M241 426.5h2M245 426.5h3M253 426.5h7M264 426.5h6M274 426.5h3M280 426.5h2M288 426.5h2M291 426.5h2M298 426.5h2M316 426.5h2M329 426.5h2M357 426.5h2M369 426.5h2M374 426.5h2M392 426.5h2M399 426.5h2M419 426.5h2M446 426.5h2M489 426.5h2M146 427.5h2M151 427.5h2M164 427.5h2M169 427.5h3M175 427.5h2M178 427.5h4M186 427.5h3M198 427.5h2M202 427.5h2M205 427.5h3M209 427.5h17M231 427.5h8M241 427.5h7M253 427.5h3M257 427.5h3M265 427.5h5M274 427.5h2M280 427.5h2M288 427.5h2M291 427.5h2M296 427.5h2M316 427.5h2M329 427.5h2M342 427.5h2M349 427.5h2M357 427.5h2M369 427.5h2M374 427.5h2M392 427.5h2M146 428.5h2M151 428.5h2M156 428.5h2M164 428.5h2M175 428.5h2M180 428.5h2M186 428.5h2M200 428.5h2M205 428.5h8M214 428.5h2M222 428.5h2M231 428.5h2M234 428.5h3M241 428.5h7M253 428.5h2M267 428.5h3M274 428.5h2M286 428.5h2M296 428.5h2M316 428.5h2M323 428.5h2M332 428.5h3M336 428.5h2M342 428.5h2M345 428.5h2M349 428.5h2M352 428.5h2M369 428.5h2M424 428.5h2M496 428.5h2M156 429.5h3M165 429.5h2M186 429.5h2M200 429.5h2M203 429.5h7M211 429.5h2M214 429.5h2M235 429.5h3M246 429.5h6M258 429.5h2M265 429.5h7M274 429.5h2M286 429.5h2M295 429.5h2M316 429.5h2M319 429.5h2M323 429.5h5M329 429.5h2M332 429.5h3M336 429.5h2M345 429.5h2M352 429.5h2M362 429.5h2M372 429.5h2M424 429.5h2M442 429.5h2M496 429.5h2M157 430.5h4M165 430.5h2M171 430.5h2M174 430.5h3M182 430.5h2M186 430.5h2M203 430.5h10M214 430.5h2M221 430.5h2M235 430.5h3M239 430.5h2M242 430.5h2M247 430.5h5M258 430.5h2M265 430.5h2M269 430.5h3M274 430.5h2M286 430.5h2M295 430.5h2M315 430.5h6M323 430.5h8M353 430.5h2M362 430.5h2M366 430.5h2M371 430.5h3M385 430.5h4M442 430.5h2M158 431.5h3M171 431.5h2M174 431.5h3M181 431.5h3M186 431.5h2M196 431.5h2M203 431.5h5M209 431.5h4M214 431.5h2M221 431.5h4M226 431.5h2M232 431.5h2M239 431.5h2M242 431.5h3M250 431.5h2M267 431.5h4M274 431.5h2M301 431.5h2M311 431.5h8M323 431.5h2M328 431.5h2M335 431.5h2M342 431.5h2M346 431.5h3M353 431.5h2M366 431.5h2M371 431.5h2M385 431.5h4M155 432.5h2M165 432.5h2M168 432.5h2M181 432.5h2M184 432.5h4M196 432.5h2M201 432.5h4M206 432.5h7M223 432.5h2M226 432.5h2M232 432.5h4M241 432.5h4M248 432.5h7M267 432.5h4M285 432.5h2M301 432.5h2M311 432.5h4M328 432.5h2M335 432.5h2M342 432.5h2M346 432.5h3M350 432.5h2M353 432.5h2M371 432.5h2M382 432.5h2M493 432.5h2M118 433.5h2M155 433.5h2M165 433.5h2M168 433.5h2M184 433.5h4M201 433.5h2M205 433.5h5M213 433.5h2M216 433.5h2M223 433.5h2M231 433.5h5M238 433.5h2M241 433.5h2M248 433.5h2M251 433.5h4M260 433.5h5M269 433.5h2M280 433.5h2M285 433.5h2M312 433.5h2M315 433.5h2M338 433.5h3M350 433.5h2M382 433.5h2M486 433.5h2M493 433.5h2M118 434.5h2M178 434.5h2M185 434.5h2M204 434.5h5M213 434.5h2M216 434.5h2M220 434.5h2M223 434.5h2M231 434.5h3M238 434.5h2M252 434.5h4M260 434.5h7M269 434.5h3M276 434.5h2M280 434.5h4M294 434.5h2M298 434.5h2M307 434.5h2M315 434.5h2M327 434.5h4M338 434.5h3M347 434.5h2M486 434.5h2M153 435.5h2M178 435.5h2M190 435.5h3M204 435.5h2M207 435.5h2M220 435.5h2M225 435.5h2M239 435.5h2M252 435.5h4M265 435.5h2M269 435.5h3M276 435.5h2M279 435.5h5M288 435.5h2M294 435.5h6M307 435.5h2M323 435.5h2M327 435.5h4M347 435.5h2M361 435.5h2M153 436.5h2M177 436.5h2M190 436.5h3M195 436.5h2M204 436.5h2M207 436.5h2M225 436.5h2M234 436.5h2M239 436.5h2M247 436.5h2M252 436.5h2M265 436.5h2M279 436.5h4M287 436.5h4M294 436.5h6M308 436.5h2M323 436.5h2M338 436.5h2M345 436.5h2M359 436.5h5M175 437.5h4M195 437.5h3M210 437.5h2M234 437.5h2M247 437.5h2M252 437.5h2M255 437.5h2M271 437.5h2M279 437.5h2M287 437.5h4M294 437.5h2M308 437.5h2M315 437.5h2M338 437.5h2M345 437.5h2M359 437.5h2M362 437.5h2M365 437.5h2M175 438.5h2M183 438.5h2M196 438.5h2M210 438.5h2M242 438.5h2M255 438.5h2M259 438.5h2M271 438.5h2M279 438.5h2M284 438.5h2M290 438.5h2M310 438.5h2M315 438.5h2M335 438.5h2M365 438.5h2M373 438.5h2M183 439.5h2M207 439.5h2M219 439.5h2M242 439.5h2M259 439.5h2M284 439.5h2M287 439.5h2M290 439.5h5M296 439.5h2M310 439.5h2M329 439.5h4M335 439.5h2M346 439.5h2M351 439.5h2M373 439.5h2M386 439.5h2M167 440.5h2M192 440.5h2M207 440.5h2M215 440.5h2M219 440.5h2M244 440.5h2M247 440.5h2M274 440.5h2M278 440.5h2M281 440.5h2M287 440.5h2M291 440.5h4M296 440.5h2M316 440.5h2M328 440.5h5M334 440.5h2M346 440.5h2M351 440.5h2M386 440.5h2M164 441.5h2M167 441.5h2M192 441.5h2M203 441.5h2M214 441.5h3M227 441.5h2M232 441.5h2M240 441.5h2M244 441.5h2M247 441.5h2M269 441.5h2M274 441.5h2M278 441.5h2M281 441.5h2M316 441.5h3M325 441.5h2M328 441.5h2M334 441.5h2M164 442.5h2M195 442.5h2M203 442.5h2M214 442.5h2M227 442.5h2M232 442.5h2M240 442.5h4M269 442.5h2M273 442.5h3M317 442.5h2M325 442.5h2M335 442.5h2M484 442.5h2M175 443.5h2M195 443.5h2M201 443.5h2M210 443.5h2M228 443.5h2M242 443.5h2M259 443.5h2M273 443.5h2M276 443.5h2M335 443.5h2M358 443.5h2M484 443.5h2M175 444.5h2M197 444.5h2M201 444.5h2M210 444.5h3M228 444.5h2M244 444.5h2M249 444.5h2M259 444.5h2M276 444.5h2M282 444.5h2M290 444.5h2M305 444.5h2M324 444.5h4M333 444.5h2M358 444.5h2M189 445.5h3M197 445.5h2M211 445.5h2M244 445.5h2M249 445.5h2M265 445.5h2M282 445.5h3M290 445.5h2M305 445.5h2M316 445.5h2M323 445.5h5M333 445.5h2M376 445.5h2M395 445.5h2M165 446.5h2M189 446.5h3M213 446.5h2M216 446.5h2M227 446.5h2M248 446.5h2M265 446.5h2M283 446.5h2M316 446.5h2M323 446.5h2M346 446.5h2M376 446.5h2M395 446.5h2M165 447.5h2M170 447.5h2M193 447.5h2M208 447.5h2M213 447.5h2M216 447.5h2M225 447.5h4M248 447.5h2M260 447.5h2M273 447.5h2M301 447.5h2M333 447.5h2M346 447.5h2M366 447.5h2M381 447.5h2M167 448.5h2M170 448.5h2M193 448.5h2M200 448.5h2M208 448.5h2M225 448.5h2M247 448.5h2M260 448.5h2M273 448.5h2M301 448.5h2M308 448.5h2M333 448.5h2M366 448.5h2M381 448.5h2M428 448.5h2M485 448.5h2M167 449.5h2M200 449.5h2M247 449.5h2M302 449.5h2M308 449.5h2M327 449.5h2M428 449.5h2M485 449.5h2M209 450.5h2M225 450.5h2M247 450.5h2M280 450.5h2M291 450.5h2M302 450.5h2M327 450.5h2M353 450.5h2M151 451.5h2M165 451.5h2M209 451.5h2M225 451.5h2M233 451.5h2M273 451.5h2M280 451.5h2M286 451.5h2M291 451.5h2M328 451.5h2M353 451.5h2M364 451.5h2M440 451.5h2M151 452.5h2M165 452.5h2M229 452.5h2M233 452.5h2M260 452.5h2M273 452.5h2M286 452.5h2M314 452.5h2M328 452.5h2M364 452.5h2M440 452.5h2M229 453.5h2M260 453.5h2M303 453.5h2M314 453.5h2M376 453.5h2M190 454.5h2M193 454.5h2M211 454.5h2M303 454.5h2M309 454.5h2M365 454.5h2M376 454.5h2M165 455.5h2M173 455.5h2M190 455.5h2M193 455.5h2M196 455.5h2M207 455.5h2M211 455.5h2M240 455.5h4M256 455.5h2M280 455.5h2M309 455.5h2M365 455.5h2M150 456.5h2M164 456.5h3M173 456.5h2M177 456.5h3M187 456.5h2M196 456.5h2M207 456.5h2M240 456.5h4M256 456.5h2M280 456.5h2M298 456.5h2M335 456.5h2M150 457.5h2M164 457.5h4M177 457.5h3M187 457.5h2M196 457.5h2M241 457.5h2M250 457.5h2M277 457.5h2M298 457.5h2M335 457.5h2M453 457.5h2M166 458.5h2M181 458.5h2M187 458.5h2M196 458.5h2M250 458.5h2M253 458.5h2M259 458.5h2M277 458.5h2M453 458.5h2M164 459.5h2M181 459.5h2M184 459.5h2M187 459.5h2M253 459.5h2M259 459.5h2M318 459.5h2M164 460.5h2M184 460.5h2M187 460.5h2M213 460.5h2M216 460.5h2M255 460.5h2M272 460.5h2M318 460.5h2M187 461.5h2M213 461.5h2M216 461.5h2M255 461.5h2M272 461.5h2M277 461.5h2M351 461.5h2M203 462.5h2M232 462.5h2M272 462.5h2M277 462.5h2M350 462.5h3M378 462.5h2M203 463.5h2M232 463.5h2M250 463.5h2M289 463.5h2M350 463.5h2M378 463.5h2M206 464.5h2M239 464.5h2M250 464.5h2M289 464.5h2M177 465.5h2M206 465.5h2M239 465.5h2M394 465.5h2M167 466.5h2M177 466.5h2M330 466.5h2M394 466.5h2M167 467.5h2M274 467.5h2M330 467.5h2M350 467.5h2M236 468.5h2M274 468.5h2M350 468.5h2M205 469.5h2M236 469.5h2M259 469.5h2M272 469.5h2M276 469.5h2M295 469.5h2M335 469.5h2M174 470.5h2M205 470.5h2M259 470.5h2M262 470.5h2M272 470.5h2M276 470.5h2M295 470.5h2M309 470.5h2M335 470.5h2M174 471.5h2M212 471.5h2M228 471.5h2M262 471.5h2M274 471.5h2M309 471.5h2M362 471.5h2M200 472.5h2M212 472.5h2M228 472.5h3M274 472.5h2M301 472.5h2M362 472.5h2M200 473.5h2M229 473.5h2M254 473.5h2M301 473.5h2M254 474.5h2M311 474.5h2M311 475.5h2M204 476.5h2M266 476.5h2M331 476.5h2M204 477.5h2M242 477.5h2M249 477.5h2M266 477.5h3M331 477.5h2M242 478.5h2M249 478.5h2M252 478.5h2M267 478.5h2M300 478.5h2M159 479.5h2M252 479.5h2M300 479.5h2M159 480.5h2M224 480.5h2M309 480.5h2M224 481.5h2M309 481.5h2M314 481.5h2M254 482.5h2M311 482.5h2M314 482.5h2M377 482.5h2M254 483.5h2M311 483.5h2M359 483.5h2M377 483.5h2M252 484.5h2M359 484.5h2M252 485.5h2M257 486.5h2M280 486.5h2M287 486.5h2M291 486.5h2M196 487.5h2M257 487.5h2M280 487.5h2M287 487.5h2M291 487.5h2M344 487.5h2M196 488.5h2M344 488.5h2M287 489.5h2M182 490.5h2M287 490.5h2M295 490.5h2M182 491.5h2M283 491.5h2M295 491.5h2M336 491.5h2M163 492.5h2M283 492.5h2M336 492.5h2M163 493.5h2M292 493.5h2M292 494.5h2M341 494.5h2M214 495.5h2M267 495.5h2M341 495.5h2M214 496.5h2M267 496.5h2M288 497.5h2M314 497.5h2M288 498.5h2M314 498.5h2M302 499.5h2M302 500.5h2M183 501.5h2M239 501.5h2M183 502.5h2M239 502.5h2M376 502.5h2M376 503.5h2M298 505.5h2M218 506.5h2M298 506.5h2M218 507.5h2M302 508.5h2M302 509.5h2M196 510.5h2M262 510.5h2M196 511.5h2M262 511.5h2M259 513.5h2M240 514.5h2M259 514.5h2M269 514.5h2M240 515.5h2M269 515.5h2M156 523.5h2M156 524.5h2M309 526.5h2M309 527.5h2M220 529.5h2M347 529.5h2M218 530.5h4M347 530.5h2M218 531.5h2M296 543.5h2M296 544.5h2M294 545.5h2M294 546.5h2"/>
      <!-- labels -->
      <g font-size="12.8" fill="#0000ff" text-anchor="middle">
        <text x="261.5" y="137.6">ELOVL2</text>
        <text x="317.5" y="142.6">TK1</text>
        <text x="437" y="167.6">TFF1</text>
        <text x="262.5" y="184.6">MYBL2</text>
        <text x="317" y="178.6">MCM6</text>
        <text x="352" y="192.8">TK1</text>
        <text x="316" y="231.6">PCNA</text>
        <text x="199" y="243.8">CD44</text>
        <text x="279.5" y="250.4">MCM3</text>
        <text x="399" y="259.8">XBP1</text>
      </g>
    </svg>
  </div>
</div>
</body>
</html>
